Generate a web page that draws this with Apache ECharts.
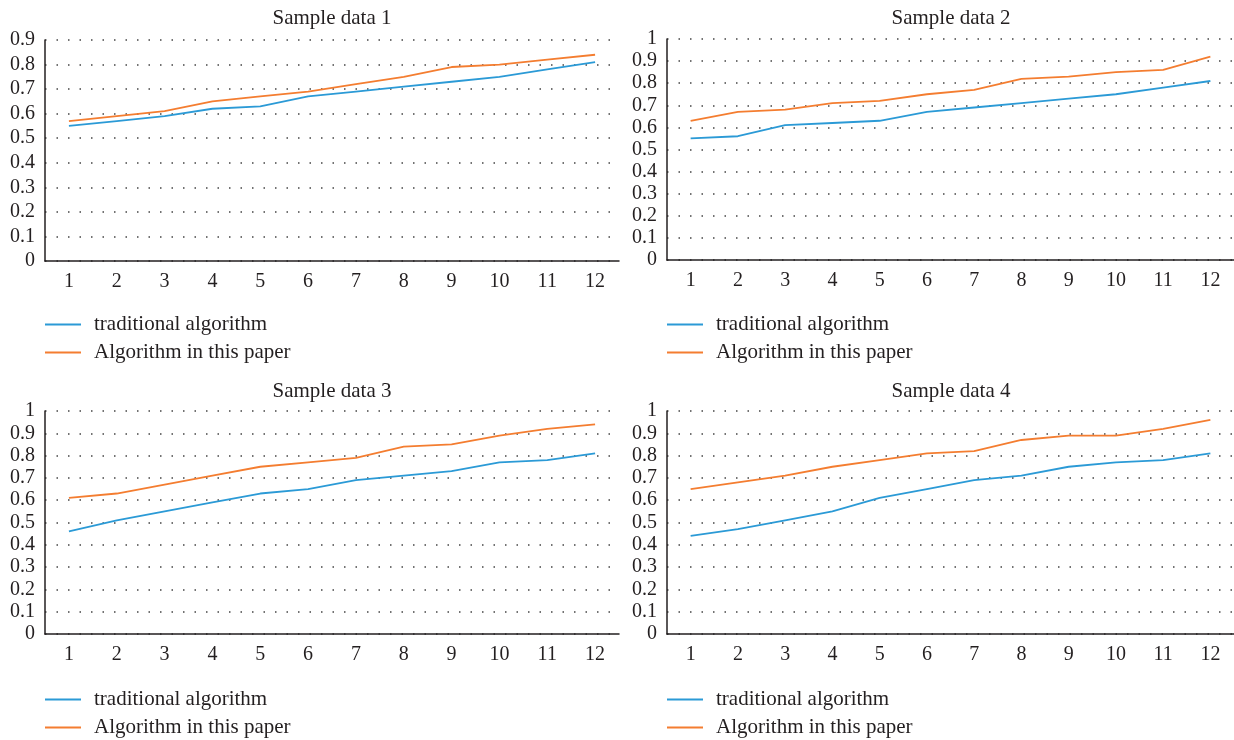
<!DOCTYPE html>
<html>
<head>
<meta charset="utf-8">
<script src="https://cdn.jsdelivr.net/npm/echarts@6/dist/echarts.min.js"></script>
<style>html,body{margin:0;padding:0;background:#fff;}#c{width:1234px;height:740px;}</style>
</head>
<body>
<div id="c"></div>
<script>
const categories = ['1','2','3','4','5','6','7','8','9','10','11','12'];
const titles = ['Sample data 1','Sample data 2','Sample data 3','Sample data 4'];
const seriesNames = ['traditional algorithm','Algorithm in this paper'];
const trad1 = [0.55,0.57,0.59,0.62,0.63,0.67,0.69,0.71,0.73,0.75,0.78,0.81];
const ours1 = [0.57,0.59,0.61,0.65,0.67,0.69,0.72,0.75,0.79,0.80,0.82,0.84];
const trad2 = [0.55,0.56,0.61,0.62,0.63,0.67,0.69,0.71,0.73,0.75,0.78,0.81];
const ours2 = [0.63,0.67,0.68,0.71,0.72,0.75,0.77,0.82,0.83,0.85,0.86,0.92];
const trad3 = [0.46,0.51,0.55,0.59,0.63,0.65,0.69,0.71,0.73,0.77,0.78,0.81];
const ours3 = [0.61,0.63,0.67,0.71,0.75,0.77,0.79,0.84,0.85,0.89,0.92,0.94];
const trad4 = [0.44,0.47,0.51,0.55,0.61,0.65,0.69,0.71,0.75,0.77,0.78,0.81];
const ours4 = [0.65,0.68,0.71,0.75,0.78,0.81,0.82,0.87,0.89,0.89,0.92,0.96];
const yMax = [0.9, 1, 1, 1];

const panels = [[trad1, ours1],[trad2, ours2],[trad3, ours3],[trad4, ours4]];
const layout = [
  {left:45, width:574, top:40, height:221, tTop:8, lTop:314},
  {left:667, width:568, top:39, height:221, tTop:8, lTop:314},
  {left:45, width:574, top:411, height:223, tTop:381, lTop:689},
  {left:667, width:568, top:411, height:223, tTop:381, lTop:689}
];
const colors = ['#2b9ad6', '#f47d30'];
const FONT = '"Liberation Serif", "DejaVu Serif", serif';
const INK = '#231f20';

const option = {
  animation: false,
  textStyle: {fontFamily: FONT},
  title: [], grid: [], xAxis: [], yAxis: [], legend: [], series: []
};
layout.forEach((L, i) => {
  option.title.push({
    text: titles[i], left: L.left + L.width/2, top: L.tTop, textAlign: 'center', padding: 0,
    textStyle: {fontFamily: FONT, fontSize: 21, fontWeight: 'normal', color: INK}
  });
  option.grid.push({left: L.left, top: L.top, width: L.width, height: L.height, containLabel: false});
  option.xAxis.push({
    type: 'category', gridIndex: i, data: categories, boundaryGap: true,
    axisLine: {lineStyle: {color: INK, width: 1.5}},
    axisTick: {show: false},
    axisLabel: {fontFamily: FONT, fontSize: 20, color: INK, margin: 11}
  });
  option.yAxis.push({
    type: 'value', gridIndex: i, min: 0, max: yMax[i], interval: 0.1,
    axisLine: {show: true, lineStyle: {color: INK, width: 1.5}},
    axisTick: {show: false},
    axisLabel: {fontFamily: FONT, fontSize: 20, color: INK, margin: 10,
      formatter: v => String(+v.toFixed(1))},
    splitLine: {show: true, lineStyle: {color: '#444', width: 1.5, type: [1.5, 10]}}
  });
  option.legend.push({
    orient: 'vertical', left: L.left, top: L.lTop, height: 60, padding: 0,
    itemWidth: 36, itemHeight: 2, itemGap: 7, icon: 'rect', data: seriesNames,
    textStyle: {fontFamily: FONT, fontSize: 21, color: INK, padding: [0,0,0,8]}
  });
  panels[i].forEach((d, k) => {
    option.series.push({
      name: seriesNames[k], type: 'line', xAxisIndex: i, yAxisIndex: i, data: d,
      showSymbol: false, symbol: 'none', lineStyle: {color: colors[k], width: 1.8},
      itemStyle: {color: colors[k]}
    });
  });
});
const chart = echarts.init(document.getElementById('c'), null, {renderer: 'canvas'});
chart.setOption(option);
</script>
</body>
</html>
